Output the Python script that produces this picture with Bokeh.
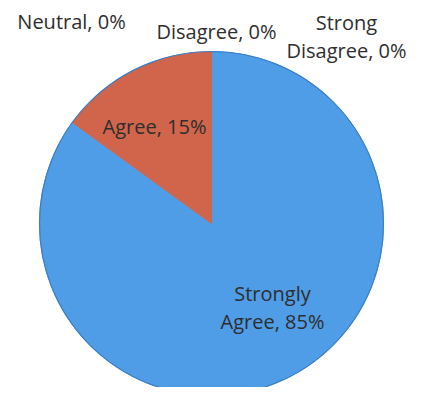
import math
from bokeh.plotting import figure
from bokeh.models import Range1d, ColumnDataSource
from bokeh.core.properties import value
from bokeh.embed import file_html
from bokeh.resources import INLINE

# ---- data ----
categories = ["Strongly Agree", "Agree", "Neutral", "Disagree", "Strong Disagree"]
percents = [85, 15, 0, 0, 0]
label_texts = ["Strongly\nAgree, 85%", "Agree, 15%", "Neutral, 0%", "Disagree, 0%", "Strong\nDisagree, 0%"]
colors = ["#4e9de6", "#d0654b", "#a5a5a5", "#f0c030", "#5b86c5"]

# ---- layout (pixels) ----
W, H = 408, 387
cx, cy, R = 211, 164, 172
# label offsets from the pie centre (annotation placement)
label_offsets = [(61, -84), (-57, 97), (-140, 202), (5, 192), (135, 187)]

p = figure(width=W, height=H, output_backend="svg", toolbar_location=None,
           x_range=Range1d(0, W), y_range=Range1d(0, H), min_border=0)
p.axis.visible = False
p.grid.visible = False
p.outline_line_color = None
p.background_fill_color = "white"
p.border_fill_color = "white"

total = float(sum(percents))
starts, ends = [], []
cum = 0.0
for v in percents:
    a0 = cum / total
    cum += v
    a1 = cum / total
    # clockwise from 12 o'clock -> bokeh counter-clockwise from +x
    starts.append(math.pi / 2 - a1 * 2 * math.pi)
    ends.append(math.pi / 2 - a0 * 2 * math.pi)

nz = [i for i, v in enumerate(percents) if v > 0]
src_nz = ColumnDataSource(dict(cat=[categories[i] for i in nz],
                               start=[starts[i] for i in nz], end=[ends[i] for i in nz],
                               color=[colors[i] for i in nz]))
p.wedge(x=cx, y=cy, radius=R, start_angle="start", end_angle="end", direction="anticlock",
        fill_color="color", line_color="color", line_width=1, source=src_nz)
p.circle(x=[cx], y=[cy], radius=R, fill_color=None, line_color="#3d7fc4", line_width=1.2)

lx = [cx + dx for dx, dy in label_offsets]
ly = [cy + dy for dx, dy in label_offsets]
p.text(x=lx, y=ly, text=label_texts, text_align="center", text_baseline="middle",
       text_font=value("Open Sans"), text_font_size="20px", text_color="#2e2e2e",
       text_line_height=1.07)

open("out.html", "w").write(file_html(p, INLINE))
